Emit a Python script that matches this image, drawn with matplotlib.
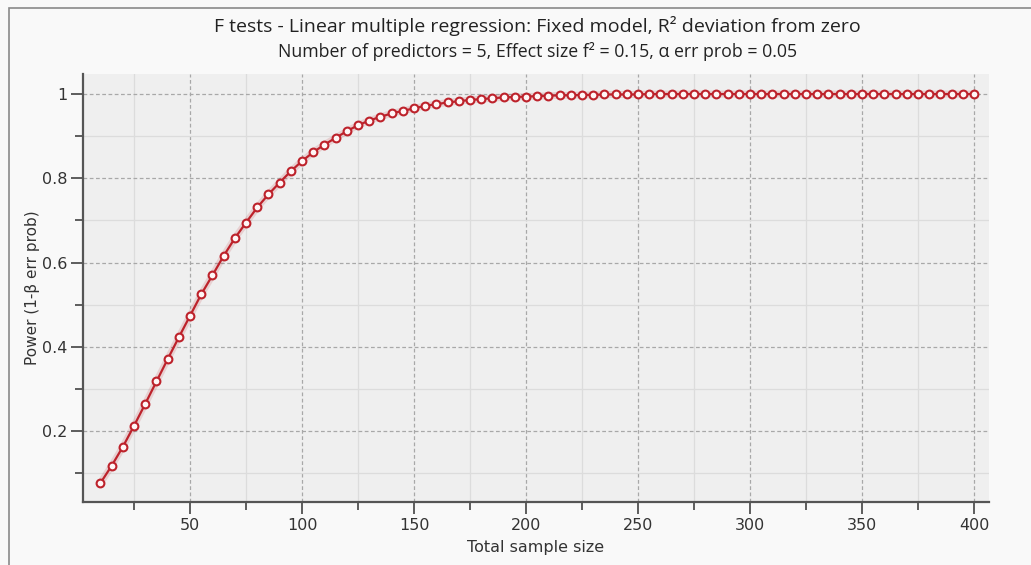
import matplotlib.pyplot as plt
from matplotlib.patches import Rectangle
from matplotlib.ticker import MultipleLocator

# ==========================================
# DATA (read off the G*Power plot)
# ==========================================
sample_sizes = [10, 15, 20, 25, 30, 35, 40, 45, 50, 55, 60, 65, 70, 75, 80, 85, 90, 95,
                100, 105, 110, 115, 120, 125, 130, 135, 140, 145, 150, 155, 160, 165,
                170, 175, 180, 185, 190, 195, 200, 205, 210, 215, 220, 225, 230, 235,
                240, 245, 250, 255, 260, 265, 270, 275, 280, 285, 290, 295, 300, 305,
                310, 315, 320, 325, 330, 335, 340, 345, 350, 355, 360, 365, 370, 375,
                380, 385, 390, 395, 400]
power = [0.077, 0.118, 0.163, 0.213, 0.265, 0.318, 0.371, 0.423, 0.474, 0.525,
         0.570, 0.616, 0.658, 0.695, 0.731, 0.762, 0.790, 0.817, 0.841, 0.862,
         0.880, 0.896, 0.912, 0.926, 0.937, 0.946, 0.954, 0.960, 0.966, 0.972,
         0.976, 0.980, 0.983, 0.986, 0.988, 0.990, 0.992, 0.993, 0.994, 0.995,
         0.996, 0.997, 0.997, 0.998, 0.998, 0.999, 0.999, 0.999, 0.999, 1.000,
         1.000, 1.000, 1.000, 1.000, 1.000, 1.000, 1.000, 1.000, 1.000, 1.000,
         1.000, 1.000, 1.000, 1.000, 1.000, 1.000, 1.000, 1.000, 1.000, 1.000,
         1.000, 1.000, 1.000, 1.000, 1.000, 1.000, 1.000, 1.000, 1.000]

title = "F tests - Linear multiple regression: Fixed model, R² deviation from zero"
subtitle = "Number of predictors = 5, Effect size f² = 0.15, α err prob = 0.05"
y_ticks = [0.2, 0.4, 0.6, 0.8, 1.0]
y_tick_labels = ['0.2', '0.4', '0.6', '0.8', '1']
x_ticks = [50, 100, 150, 200, 250, 300, 350, 400]

# ==========================================
# STYLE
# ==========================================
fig_bg = '#f9f9f9'
plot_bg = '#efefef'
red = '#bd222b'
dark = '#333333'

fig = plt.figure(figsize=(10.31, 5.65), dpi=100, facecolor=fig_bg)
ax = fig.add_axes([0.0805, 0.1115, 0.8788, 0.7575])
ax.set_facecolor(plot_bg)

# outer frame of the G*Power window
fig.patches.append(Rectangle((9 / 1031, -0.1), 1.2, 1.1 - 8 / 565, transform=fig.transFigure,
                             fill=False, edgecolor='#8a8a8a', lw=1.2))

# ==========================================
# PLOT
# ==========================================
ax.plot(sample_sizes, power, color=red, lw=5, alpha=0.15, zorder=3)
ax.plot(sample_sizes, power, color=red, lw=1.6, marker='o', markersize=5.6,
        markerfacecolor='#fff6f6', markeredgecolor=red, markeredgewidth=1.5, zorder=4)

ax.set_xlim(2.2, 406.7)
ax.set_ylim(0.032, 1.0475)

ax.set_xticks(x_ticks)
ax.xaxis.set_minor_locator(MultipleLocator(25))
ax.set_yticks(y_ticks)
ax.set_yticklabels(y_tick_labels)
ax.yaxis.set_minor_locator(MultipleLocator(0.1))

ax.grid(which='major', color='#a8a8a8', linestyle=(0, (3, 2)), lw=0.9)
ax.grid(which='minor', color='#dcdcdc', linestyle='-', lw=0.9)
ax.set_axisbelow(True)

for s in ['top', 'right']:
    ax.spines[s].set_visible(False)
for s in ['left', 'bottom']:
    ax.spines[s].set_color('#555555')
    ax.spines[s].set_linewidth(1.6)

ax.tick_params(which='major', direction='out', length=8.5, width=1.1, color=dark,
               labelsize=11.5, labelcolor=dark, pad=3)
ax.tick_params(which='minor', direction='out', length=5.5, width=1.1, color=dark)

ax.set_xlabel("Total sample size", fontsize=11.5, color=dark, labelpad=5)
ax.set_ylabel("Power (1-β err prob)", fontsize=11, color=dark, labelpad=1)

fig.text(0.521, 0.954, title, ha='center', va='center', fontsize=14,
         color='#222222', family='Open Sans')
fig.text(0.521, 0.908, subtitle, ha='center', va='center', fontsize=12.8,
         color='#222222', family='Open Sans')

plt.savefig('out.png', dpi=100, facecolor=fig_bg)
